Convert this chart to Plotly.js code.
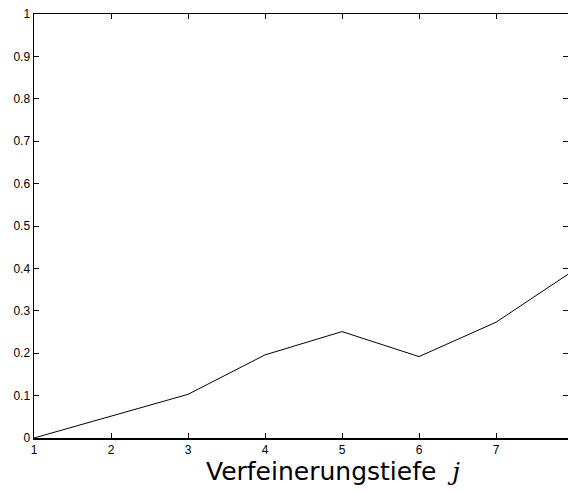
<!DOCTYPE html>
<html>
<head>
<meta charset="utf-8">
<script src="https://cdn.plot.ly/plotly-3.0.1.min.js"></script>
<style>html,body{margin:0;padding:0;background:#fff;}#plot{width:568px;height:492px;}</style>
</head>
<body>
<div id="plot"></div>
<script>
const depth = [1, 2, 3, 4, 5, 6, 7, 8];
const values = [0, 0.051, 0.103, 0.196, 0.251, 0.192, 0.273, 0.394];
const yTicks = [0, 0.1, 0.2, 0.3, 0.4, 0.5, 0.6, 0.7, 0.8, 0.9, 1];
const yTickLabels = ['0', '0.1', '0.2', '0.3', '0.4', '0.5', '0.6', '0.7', '0.8', '0.9', '1'];
const xTicks = [1, 2, 3, 4, 5, 6, 7];
const xLabel = 'Verfeinerungstiefe  <span style="font-family:\'DejaVu Serif\',serif"><i>j</i></span>';

const trace = {
  x: depth, y: values, type: 'scatter', mode: 'lines',
  line: {color: '#000', width: 1}, hoverinfo: 'skip'
};
const axisFont = {family: 'Liberation Sans, Arial, sans-serif', size: 12, color: '#000'};
const layout = {
  width: 568, height: 492,
  margin: {l: 34, r: 0, t: 14, b: 54},
  paper_bgcolor: '#fff', plot_bgcolor: '#fff',
  showlegend: false,
  xaxis: {
    range: [1, 1 + 534 / 77], tickvals: xTicks, ticktext: xTicks.map(String),
    ticks: 'inside', ticklen: 5, tickwidth: 1, tickcolor: '#000',
    showline: true, linecolor: '#000', linewidth: 1.5, mirror: 'ticks',
    showgrid: false, zeroline: false, tickfont: axisFont, ticklabelstandoff: 0
  },
  yaxis: {
    range: [0, 1], tickvals: yTicks, ticktext: yTickLabels,
    ticks: 'inside', ticklen: 5, tickwidth: 1, tickcolor: '#000',
    showline: true, linecolor: '#000', linewidth: 1.5, mirror: 'ticks',
    showgrid: false, zeroline: false, tickfont: axisFont
  },
  annotations: [{
    text: xLabel, xref: 'paper', yref: 'paper',
    x: (333 - 34) / 534, y: -0.04, xanchor: 'center', yanchor: 'top',
    showarrow: false, font: {family: 'DejaVu Sans, sans-serif', size: 25, color: '#000'}
  }]
};
Plotly.newPlot('plot', [trace], layout, {staticPlot: true, displayModeBar: false});
</script>
</body>
</html>
